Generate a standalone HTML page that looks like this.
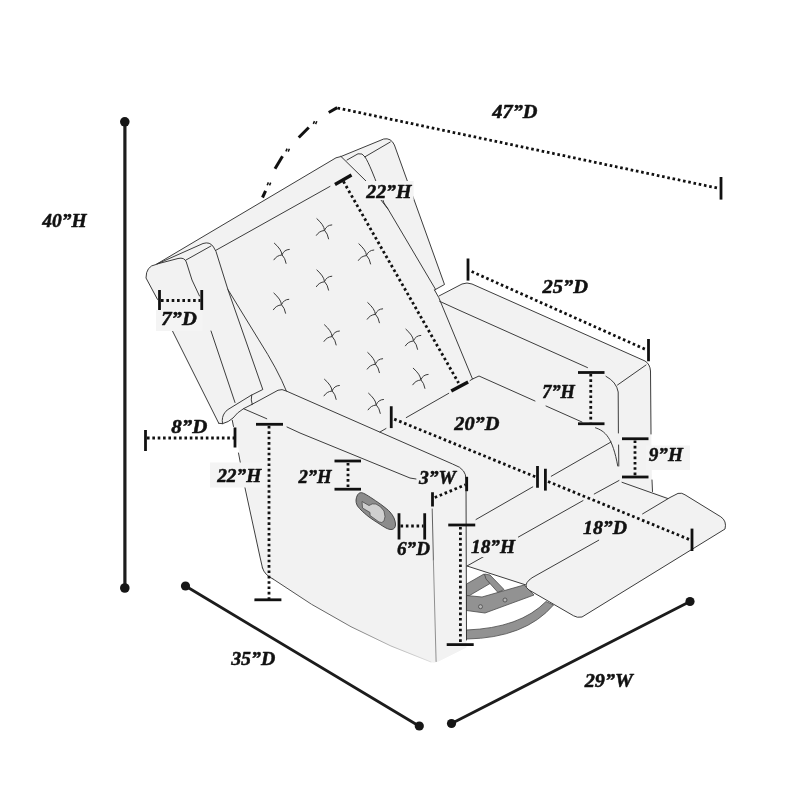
<!DOCTYPE html>
<html>
<head>
<meta charset="utf-8">
<title>Recliner dimensions</title>
<style>
html,body{margin:0;padding:0;background:#fff;}
body{width:800px;height:800px;overflow:hidden;font-family:"Liberation Serif",serif;}
svg{display:block;}
#labels{filter:grayscale(1);}
.ln{fill:none;stroke:#333;stroke-width:0.95;stroke-linecap:round;stroke-linejoin:round;}
.dot{fill:none;stroke:#111;stroke-width:2.8;stroke-dasharray:2.6 2.75;}
.tk{fill:none;stroke:#111;stroke-width:2.8;stroke-linecap:butt;}
.big{fill:none;stroke:#1c1c1c;stroke-width:2.8;stroke-linecap:round;}
.lbl{font-family:"Liberation Serif",serif;font-weight:bold;font-style:italic;font-size:18.6px;fill:#111;stroke:#111;stroke-width:0.5;stroke-linejoin:round;}
.bx{fill:#f4f4f4;}
</style>
</head>
<body>
<svg width="800" height="800" viewBox="0 0 800 800">
<rect width="800" height="800" fill="#ffffff"/>

<!-- ===== CHAIR SILHOUETTE FILL ===== -->
<g id="fill">
<path fill="#f2f2f2" d="M146,278 Q146,266 156,264.5 L336,157.8 L341,156.5 L383.7,139 Q391,137.5 394.4,145 L444.5,284.5 L435.5,289.6 L438.75,297 L462,284 Q467,282 472,284 L645,361 Q650,364 650.5,371 L652,491.5 L668,497.5 L678,493.4 Q682,492.5 685,494.8 L720.8,516.8 Q727,521 725,529 L582,617 Q577,618 573.6,615.8 L529,590 Q525,586 526,585 L467,566 L466.5,647.5 L438.5,661.5 Q434,663.5 431,662 Q350,633 273,579 Q264.5,575 262.5,568 L260,557 L239,451 L232.5,420 L223.75,424.5 L218.75,423.75 L146,278 Z"/>
</g>

<!-- ===== METAL BASE ===== -->
<g id="metal" fill="#929292" stroke="#4a4a4a" stroke-width="0.8" stroke-linejoin="round">
<path d="M466.5,630 Q520,628 546,601.5 L553.5,605 Q525,638 466.5,639 Z"/>
<path d="M466.5,584 L484,574 L490,583.5 L469.5,595.5 L466.5,595.5 Z"/>
<path d="M484.5,574 L490,575 L504,589.5 L498,592.5 L486,579 Z"/>
<path d="M466.5,595.5 L482,597 L524,585 L534,595 L485,613 L466.5,610.5 Z"/>
<circle cx="480.5" cy="606.7" r="2" fill="#b5b5b5"/>
<circle cx="505" cy="600" r="2" fill="#b5b5b5"/>
</g>

<!-- ===== CHAIR LINES ===== -->
<g id="lines" class="ln">
<!-- silhouette outline pieces -->
<path d="M218.75,423.25 L172.5,331 M157.5,299.4 L146,278 Q146,266 156,264.5 L336,157.8 L341,156.5 L383.7,139 Q391,137.5 394.4,145 L444.5,284.5 L434.5,290"/>
<!-- left wing -->
<path d="M157,264 L203,243.5 Q210,241.3 213.5,247 L216,251.5 L227.9,289.5 L262.8,389.5 L251.75,395"/>
<path d="M186,260 L211,246"/>
<path d="M157,264 L178,258.5 Q184.5,257 186.3,262 L192,280 L199.5,296 M211,331 L235,402.5"/>
<!-- wing bottom curl -->
<path d="M218.75,423.25 L222.5,423.7 Q221.5,417 224.75,412.75 Q227,409.5 230,408.25 L251.75,394.9 Q250.5,400 252.2,404.3"/>
<path d="M222.5,423.7 Q229,422 233,418 Q237,412.5 243.5,408.7 L251.75,404.5"/>
<!-- backrest top front edge -->
<path d="M215.5,250.5 L330,186.4"/>
<!-- backrest left side curve -->
<path d="M227.9,289.5 L258.8,339.9 Q278,370 286.4,391.1"/>
<!-- right wing -->
<path d="M365,156.8 L390.3,142"/>
<path d="M347,160 L358,153.8 Q362.5,152.6 365,157 Q370,164 384,203 L388,209 L435.5,289.3"/>
<path d="M341,156.5 L366,181 L388,209"/>
<!-- backrest right edge -->
<path d="M434.5,290 L438.75,297.5 L472.5,379"/>
<!-- backrest bottom / seat back -->
<path d="M380,432 L386,428.5 M406.25,417.6 L448.75,393.3 M470,380.6 L472.5,379 L479,376 L535,401 M546,406 L582,422 M595.5,427.8 C605,431 612.5,437 617.75,466"/>
<!-- left arm -->
<path d="M251.75,404.5 L278,390.25 Q282,388.6 286.25,391 L452.5,464 Q461,467 463.5,471 Q466,474 466,480 L466.5,640"/>
<path d="M243.5,408.7 L266.75,418.75 M287,427 L300,433 L410,478 L416,479"/>
<path stroke="#5a5a5a" d="M432.2,509 L433.4,560"/>
<path stroke="#8a8a8a" d="M433.4,560 L436.1,661.5"/>
<!-- base -->
<path d="M232.25,420.25 L233.5,426.5 M238.5,453 L240.8,465 M244.6,486 L260,557 L262.5,568"/>
<defs><linearGradient id="bg" gradientUnits="userSpaceOnUse" x1="270" y1="0" x2="432" y2="0"><stop offset="0" stop-color="#3a3a3a"/><stop offset="0.45" stop-color="#6a6a6a"/><stop offset="0.8" stop-color="#bdbdbd"/><stop offset="1" stop-color="#dedede"/></linearGradient></defs>
<path d="M262.5,568 Q264.5,575 273,579"/>
<path stroke="url(#bg)" d="M273,579 Q350,633 431,662"/>
<!-- right arm -->
<path d="M439,296 L462,284 Q467,282 472,284 L645,361 Q650,364 650.5,371 L651,434 M652,480 L652.5,491.5"/>
<path d="M439.6,301.3 L460,310.6 L587.5,367.6 M606,376.3 Q616.5,382 618.2,392 L618.4,433 M618.6,445 L618.8,466"/>
<path d="M617.5,385 L646,365"/>
<!-- seat front + legrest -->
<path d="M476,519.5 L532.75,486.9 M551.25,476.25 L611,442"/>
<path d="M467,566 L583,500.6 M594.25,494 L619,480.5 M622,482.3 L668.5,498.8"/>
<path d="M467,566 L526,585"/>
<!-- pad -->
<path fill="#f2f2f2" stroke="none" d="M526,585 Q527,580 536,575.5 L670,497.5 L678,493.4 Q682,492.5 685,494.8 L720.8,516.8 Q727,521 725,529 L582,617 Q577,618 573.6,615.8 L529,590 Q525.5,587.5 526,585 Z"/>
<path d="M598.75,540.2 L536,575.5 Q527,580 526,585 Q525.5,587.5 529,590 L573.6,615.8 Q577,618 582,617 L725,529 Q727,521 720.8,516.8 L685,494.8 Q682,492.5 678,493.4 L670,497.5 L642.6,513.9"/>
</g>

<!-- tufts -->
<g id="tufts" class="ln" style="stroke:#3a3a3a;stroke-width:1">
<defs><g id="tf"><path d="M-7.5,-11.4 Q-0.3,-5 0,0 Q3.4,3.6 4.2,8.75"/><path d="M7.4,-5.2 Q2.2,-5 0,0.4 Q-5.2,0.8 -8,5.2"/></g></defs>
<use href="#tf" x="324.4" y="230.1"/>
<use href="#tf" x="281.9" y="254.6"/>
<use href="#tf" x="366.4" y="255.2"/>
<use href="#tf" x="324.4" y="281.4"/>
<use href="#tf" x="281.4" y="304.5"/>
<use href="#tf" x="375.25" y="314"/>
<use href="#tf" x="332" y="336.2"/>
<use href="#tf" x="413.4" y="340.6"/>
<use href="#tf" x="375.25" y="363.9"/>
<use href="#tf" x="420.75" y="379.6"/>
<use href="#tf" x="332" y="390.65"/>
<use href="#tf" x="376.1" y="404.65"/>
</g>

<!-- lever -->
<g id="lever">
<path d="M356.0,500.0 C356.1,498.3 356.8,496.2 357.5,495.0 C358.2,493.8 359.2,492.9 360.5,492.7 C361.8,492.5 362.9,492.9 365.0,494.0 C367.1,495.1 370.0,497.0 373.0,499.0 C376.0,501.0 380.2,503.8 383.0,506.0 C385.8,508.2 388.2,510.0 390.0,512.0 C391.8,514.0 393.1,516.0 394.0,518.0 C394.9,520.0 395.4,522.3 395.5,524.0 C395.6,525.7 395.2,527.1 394.5,528.0 C393.8,528.9 392.4,529.5 391.0,529.5 C389.6,529.5 388.2,529.1 386.0,528.0 C383.8,526.9 380.8,524.8 378.0,523.0 C375.2,521.2 371.8,519.2 369.0,517.0 C366.2,514.8 363.0,512.0 361.0,510.0 C359.0,508.0 357.8,506.7 357.0,505.0 C356.2,503.3 355.9,501.7 356.0,500.0 Z" fill="#8c8c8c" stroke="#3c3c3c" stroke-width="0.9"/>
<path d="M362,501.5 L369,505.5 Q372,503 376,504 Q381,506 384,511 Q386,517 384,521 Q382,523.5 379,522 L370,515.5 L370,512.5 L362.5,508 Z" fill="#cfcfcf" stroke="#4a4a4a" stroke-width="0.8"/>
</g>


<!-- ===== BIG DIMENSION LINES ===== -->
<g id="big">
<line class="big" style="stroke-width:3.2" x1="124.9" y1="122" x2="124.9" y2="588"/>
<circle cx="124.8" cy="121.8" r="4.8" fill="#161616"/>
<circle cx="124.8" cy="588" r="4.8" fill="#161616"/>
<line class="big" x1="185.5" y1="586" x2="419" y2="726"/>
<circle cx="185.5" cy="586" r="4.6" fill="#161616"/>
<circle cx="419.3" cy="726" r="4.6" fill="#161616"/>
<line class="big" x1="451.5" y1="723.5" x2="690" y2="601.5"/>
<circle cx="451.5" cy="723.5" r="4.6" fill="#161616"/>
<circle cx="690" cy="601.5" r="4.6" fill="#161616"/>
</g>

<!-- ===== LABEL BACKGROUND BOXES ===== -->
<g id="boxes">
<rect class="bx" x="156" y="310" width="46.5" height="21"/>
<rect class="bx" x="210" y="462.5" width="55" height="25"/>
<rect class="bx" x="646" y="445.5" width="44" height="24.5"/>
<rect class="bx" x="364.6" y="181" width="49" height="19"/>
<rect fill="#f2f2f2" x="468" y="536" width="50" height="21"/>
</g>

<!-- ===== DOTTED LINES ===== -->
<g id="dots">
<line class="dot" x1="337.5" y1="108" x2="718.5" y2="188.3"/>
<line class="dot" x1="343.4" y1="181.4" x2="458.6" y2="383"/>
<line class="dot" x1="161" y1="300.5" x2="200.5" y2="300.5"/>
<line class="dot" x1="147" y1="438" x2="234" y2="438"/>
<line class="dot" x1="269" y1="426" x2="269" y2="599"/>
<line class="dot" x1="348" y1="463" x2="348" y2="488"/>
<line class="dot" x1="400.5" y1="526" x2="423.5" y2="526"/>
<line class="dot" x1="434.75" y1="497.5" x2="465.5" y2="484.75"/>
<line class="dot" x1="460.4" y1="527" x2="460.4" y2="643"/>
<line class="dot" x1="394.2" y1="419.1" x2="536.5" y2="477.3"/>
<line class="dot" x1="548" y1="481.5" x2="690.5" y2="540"/>
<line class="dot" x1="471.6" y1="271.5" x2="647" y2="350.1"/>
<line class="dot" x1="590.75" y1="374" x2="590.75" y2="422.5"/>
<line class="dot" x1="635" y1="440.5" x2="635" y2="476"/>
</g>

<!-- ===== ARC (dash-dot-dot) ===== -->
<g id="arc" fill="none" stroke="#111" stroke-linecap="butt">
<line x1="328.75" y1="112.5" x2="337.2" y2="107.6" stroke-width="3"/>
<line x1="298.75" y1="137.5" x2="308.75" y2="127.5" stroke-width="3"/>
<line x1="275" y1="168.75" x2="282.5" y2="156.25" stroke-width="3"/>
<line x1="262.5" y1="197.5" x2="265.6" y2="190.8" stroke-width="3"/>
<g stroke-width="1.5">
<line x1="313.3" y1="123.9" x2="314.5" y2="121.1"/><line x1="315.6" y1="124.1" x2="316.8" y2="121.3"/>
<line x1="285.9" y1="151.4" x2="287.1" y2="148.6"/><line x1="288.2" y1="151.6" x2="289.4" y2="148.8"/>
<line x1="267.2" y1="185.2" x2="268.4" y2="182.4"/><line x1="269.5" y1="185.4" x2="270.7" y2="182.6"/>
</g>
</g>

<!-- ===== TICKS ===== -->
<g id="ticks" class="tk">
<line x1="721" y1="177" x2="721" y2="199.6"/>
<line style="stroke-width:3.4" x1="335" y1="184.5" x2="351.5" y2="175"/>
<line style="stroke-width:3.4" x1="451.25" y1="391" x2="468.1" y2="381.9"/>
<line x1="159.5" y1="290" x2="159.5" y2="310"/>
<line x1="201.75" y1="290" x2="201.75" y2="310"/>
<line x1="145.5" y1="430" x2="145.5" y2="451"/>
<line x1="235" y1="427.5" x2="235" y2="447.5"/>
<line x1="256" y1="424.3" x2="283" y2="424.3"/>
<line x1="254.4" y1="599.8" x2="281.4" y2="599.8"/>
<line x1="334.5" y1="461" x2="361" y2="461"/>
<line x1="334.5" y1="489.2" x2="361" y2="489.2"/>
<line x1="399" y1="513.25" x2="399" y2="539.5"/>
<line x1="424.7" y1="513.25" x2="424.7" y2="539.5"/>
<line x1="432.5" y1="492.25" x2="432.5" y2="506.5"/>
<line x1="466.7" y1="476.8" x2="466.7" y2="491.2"/>
<line x1="448.25" y1="525" x2="475.25" y2="525"/>
<line x1="446.7" y1="644.6" x2="473.7" y2="644.6"/>
<line x1="391.25" y1="406.25" x2="391.25" y2="428.1"/>
<line x1="537.5" y1="466" x2="537.5" y2="487.75"/>
<line x1="545.4" y1="468.75" x2="545.4" y2="490.6"/>
<line x1="692" y1="528.6" x2="692" y2="551"/>
<line x1="468" y1="258.5" x2="468" y2="280.6"/>
<line x1="648.5" y1="339" x2="648.5" y2="361.25"/>
<line x1="578" y1="372.5" x2="604.5" y2="372.5"/>
<line x1="578" y1="423.75" x2="604.5" y2="423.75"/>
<line x1="622" y1="438.75" x2="648.5" y2="438.75"/>
<line x1="622" y1="477" x2="648.5" y2="477"/>
</g>

<!-- ===== LABELS ===== -->
<g id="labels" class="lbl">
<text x="42.3" y="227.3" textLength="44.25" lengthAdjust="spacingAndGlyphs">40”H</text>
<text x="231.2" y="665" textLength="44.07" lengthAdjust="spacingAndGlyphs">35”D</text>
<text x="584.8" y="687.3" textLength="48.08" lengthAdjust="spacingAndGlyphs">29”W</text>
<text x="492.3" y="117.7" textLength="45.22" lengthAdjust="spacingAndGlyphs">47”D</text>
<text x="366.2" y="197.5" textLength="45.36" lengthAdjust="spacingAndGlyphs">22”H</text>
<text x="161.3" y="325.2" textLength="35.51" lengthAdjust="spacingAndGlyphs">7”D</text>
<text x="171.3" y="433.25" textLength="36.03" lengthAdjust="spacingAndGlyphs">8”D</text>
<text x="217.2" y="482" textLength="44.04" lengthAdjust="spacingAndGlyphs">22”H</text>
<text x="298.4" y="483" textLength="33.27" lengthAdjust="spacingAndGlyphs">2”H</text>
<text x="397" y="555" textLength="33.0" lengthAdjust="spacingAndGlyphs">6”D</text>
<text x="419" y="484" textLength="37.03" lengthAdjust="spacingAndGlyphs">3”W</text>
<text x="471" y="553.2" textLength="44.02" lengthAdjust="spacingAndGlyphs">18”H</text>
<text x="454.25" y="429.5" textLength="45.28" lengthAdjust="spacingAndGlyphs">20”D</text>
<text x="583" y="533.5" textLength="44.0" lengthAdjust="spacingAndGlyphs">18”D</text>
<text x="542.5" y="293.25" textLength="45.52" lengthAdjust="spacingAndGlyphs">25”D</text>
<text x="542.25" y="397.6" textLength="32.65" lengthAdjust="spacingAndGlyphs">7”H</text>
<text x="648.8" y="461.2" textLength="34.06" lengthAdjust="spacingAndGlyphs">9”H</text>
</g>

</svg>
</body>
</html>
